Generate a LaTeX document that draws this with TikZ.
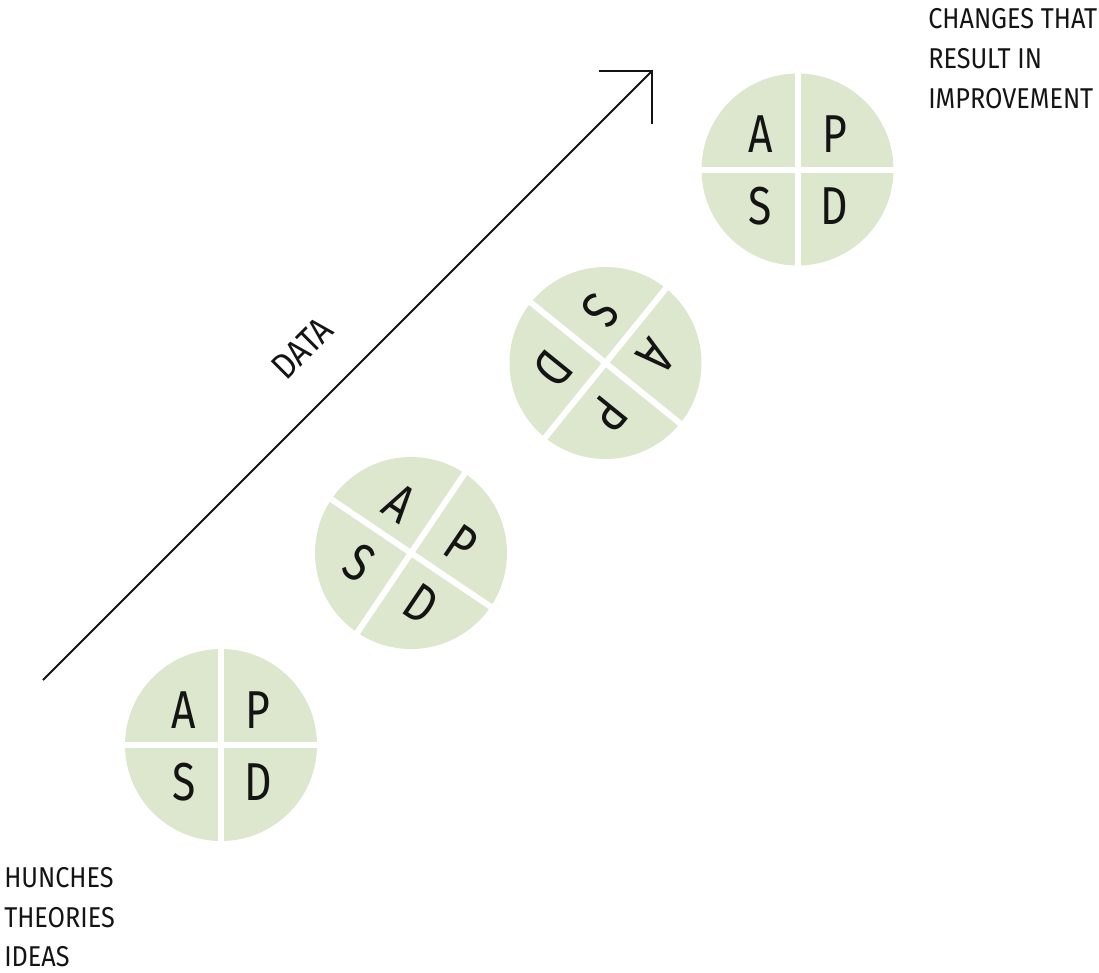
\documentclass[tikz,border=0pt]{standalone}
\usepackage{fontspec}
\setmainfont{Fira Sans}[FakeStretch=0.8]
\newfontfamily\captionfont{Fira Sans}[FakeStretch=0.88]
\usepackage{tikz}
\usetikzlibrary{arrows.meta}
\definecolor{pdsagreen}{RGB}{220,231,205}
\definecolor{ink}{RGB}{20,20,20}
\tikzstyle{disc}=[circle,fill=pdsagreen,draw=none,inner sep=0pt,minimum size=144pt]
\tikzstyle{divider}=[-,draw=white,line width=4.5pt]
\tikzstyle{letter}=[inner sep=0pt,text=ink,font=\fontsize{40}{40}\selectfont]
\tikzstyle{caption}=[inner sep=0pt,anchor=base west,text=ink,font=\captionfont\fontsize{21.5}{30}\selectfont]
\tikzstyle{dataarrow}=[-{Straight Barb[angle=90:40pt]},draw=ink,line width=1.5pt]
\pgfdeclarelayer{edgelayer}
\pgfdeclarelayer{nodelayer}
\pgfsetlayers{edgelayer,nodelayer,main}
% one plan-do-study-act wheel: name, centre, turn
\newcommand{\pdsawheel}[3]{%
	\begin{pgfonlayer}{edgelayer}
		\node [style=disc] (#1) at #2 {};
	\end{pgfonlayer}
	\begin{scope}[shift={(#1.center)},rotate=#3]
		\draw [style=divider] (-100,0) to (100,0);
		\draw [style=divider] (0,-100) to (0,100);
		\node [style=letter,rotate=#3] (#1A) at (-37,-35) {A};
		\node [style=letter,rotate=#3] (#1P) at (37,-35) {P};
		\node [style=letter,rotate=#3] (#1S) at (-37,37) {S};
		\node [style=letter,rotate=#3] (#1D) at (37,37) {D};
	\end{scope}}

\begin{document}
\begin{tikzpicture}[x=0.75pt,y=-0.75pt]
	\useasboundingbox (0,0) rectangle (1099,972);
	\pdsawheel{first}{(221,745)}{0}
	\pdsawheel{second}{(411,553)}{-34}
	\pdsawheel{third}{(605.5,363)}{-129}
	\pdsawheel{fourth}{(797.5,169.5)}{0}

	\coordinate (dataStart) at (43,680);
	\coordinate (dataTip) at (653,70);
	\draw [style=dataarrow] (dataStart) to (dataTip);
	\node [inner sep=0pt,text=ink,font=\captionfont\fontsize{27}{30}\selectfont,rotate=45] (data) at (302,348) {DATA};

	\node [style=caption] (goalA) at (928,28) {CHANGES THAT};
	\node [style=caption] (goalB) at (928,68) {RESULT IN};
	\node [style=caption] (goalC) at (928,108) {IMPROVEMENT};
	\node [style=caption] (startA) at (4,887) {HUNCHES};
	\node [style=caption] (startB) at (4,927) {THEORIES};
	\node [style=caption] (startC) at (4,966) {IDEAS};
\end{tikzpicture}
\end{document}
